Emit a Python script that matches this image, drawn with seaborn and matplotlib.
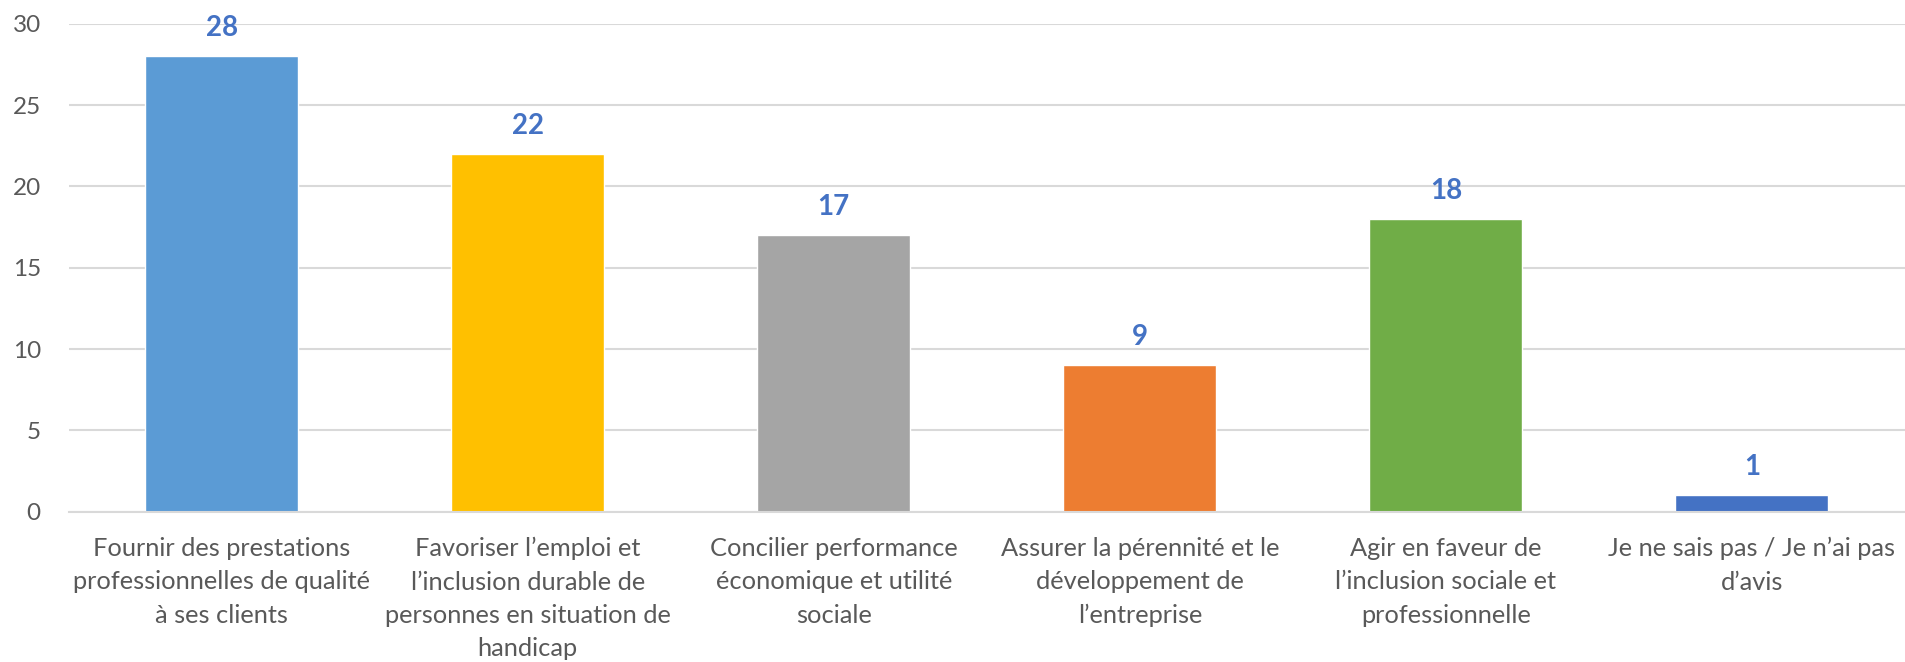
import matplotlib
matplotlib.use('Agg')
import matplotlib.pyplot as plt
import pandas as pd
import seaborn as sns

categories = [
    'Fournir des prestations\nprofessionnelles de qualité\nà ses clients',
    'Favoriser l\u2019emploi et\nl\u2019inclusion durable de\npersonnes en situation de\nhandicap',
    'Concilier performance\néconomique et utilité\nsociale',
    'Assurer la pérennité et le\ndéveloppement de\nl\u2019entreprise',
    'Agir en faveur de\nl\u2019inclusion sociale et\nprofessionnelle',
    'Je ne sais pas / Je n\u2019ai pas\nd\u2019avis',
]
values = [28, 22, 17, 9, 18, 1]
colors = ['#5B9BD5', '#FFC000', '#A5A5A5', '#ED7D31', '#70AD47', '#4472C4']

df = pd.DataFrame({'category': categories, 'value': values})

sns.set_style('white')
plt.rcParams['font.family'] = ['Lato', 'DejaVu Sans']

fig = plt.figure(figsize=(19.05, 6.62), dpi=100)
ax = fig.add_axes([0.036, 0.227, 0.964, 0.737])

sns.barplot(data=df, x='category', y='value', hue='category', palette=colors,
            width=0.5, legend=False, ax=ax, saturation=1)

for i, v in enumerate(values):
    ax.annotate(str(v), (i, v), xytext=(0, 11), textcoords='offset points',
                ha='center', va='bottom', fontsize=20, fontweight='bold',
                color='#4472C4')

ax.set_ylim(0, 30)
ax.set_yticks([0, 5, 10, 15, 20, 25, 30])
ax.set_xlim(-0.5, 5.5)
ax.yaxis.grid(True, color='#D9D9D9', linewidth=1.5)
ax.set_axisbelow(True)
for s in ['top', 'right', 'left']:
    ax.spines[s].set_visible(False)
ax.spines['bottom'].set_color('#D9D9D9')
ax.spines['bottom'].set_linewidth(1.5)
ax.set_xlabel('')
ax.set_ylabel('')
ax.tick_params(axis='x', length=0, pad=18, labelsize=18.3, labelcolor='#595959')
ax.tick_params(axis='y', length=0, pad=20, labelsize=17.5, labelcolor='#595959')
for t in ax.get_xticklabels():
    t.set_linespacing(1.55)

fig.savefig('out.png', dpi=100)
